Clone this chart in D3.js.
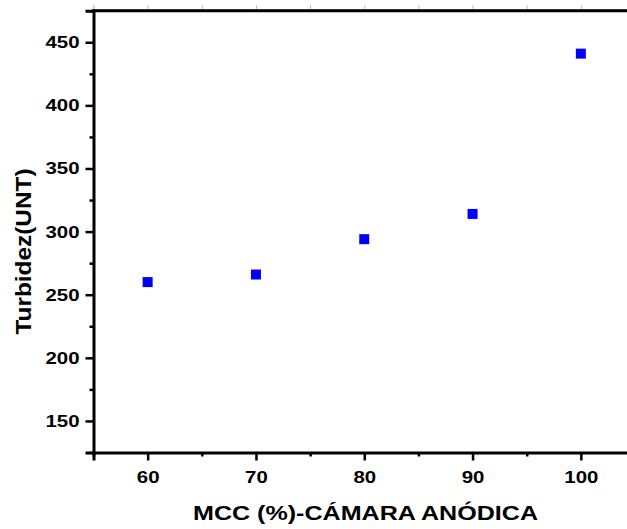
<!DOCTYPE html>
<html>
<head>
<meta charset="utf-8">
<script src="https://cdn.jsdelivr.net/npm/d3@7"></script>
<style>
  body { margin: 0; background: #fff; }
  text { font-family: "Liberation Sans", Arial, sans-serif; font-weight: bold; fill: #000; }
</style>
</head>
<body>
<div id="chart"></div>
<script>
// values
let mcc = [60, 70, 80, 90, 100];
let turbidez = [260, 266, 294, 314, 441];
let xTicks = [60, 70, 80, 90, 100];
let xMinor = [55, 65, 75, 85, 95, 105];
let yTicks = [150, 200, 250, 300, 350, 400, 450];
let yMinor = [125, 175, 225, 275, 325, 375, 425, 475];

let WIDTH = 627,
    HEIGHT = 529;

let svg = d3.select("#chart")
    .append("svg")
    .attr("width", WIDTH)
    .attr("height", HEIGHT)
    .style("display", "block");

let x = d3.scaleLinear().domain([55, 105]).range([93.5, 635]);
let y = d3.scaleLinear().domain([125, 475]).range([452.5, 10.7]);

// the original text is a bit wider than Arial, stretch it
function stretch(sel, k) {
    sel.each(function () {
        let w = this.getComputedTextLength();
        d3.select(this).attr("textLength", w * k).attr("lengthAdjust", "spacingAndGlyphs");
    });
}

// faint top axis (mostly cut off)
svg.append("g")
    .attr("transform", `translate(0,${y(475) - 1.5})`)
    .call(d3.axisTop(x).tickValues(xMinor.concat(xTicks)).tickSize(4).tickFormat(""))
    .call(g => g.selectAll("line").attr("stroke", "#bbb").attr("stroke-width", 1))
    .call(g => g.select(".domain").attr("stroke", "#ccc").attr("stroke-width", 1));

svg.append("line")
    .attr("x1", x(55) - 1.5).attr("x2", WIDTH)
    .attr("y1", y(475)).attr("y2", y(475))
    .attr("stroke", "#000").attr("stroke-width", 3);

// x axis
let gx = svg.append("g").attr("transform", `translate(0,${y(125)})`);
gx.call(d3.axisBottom(x).tickValues(xTicks).tickSize(8).tickPadding(10).tickFormat(d3.format("d")));
gx.append("g").call(d3.axisBottom(x).tickValues(xMinor).tickSize(4).tickFormat(""))
    .select(".domain").remove();
gx.selectAll("line").attr("stroke-width", 2.5);
gx.select(".domain").attr("stroke-width", 3);
gx.selectAll("text").style("font-size", "17px").call(stretch, 1.2);

// y axis
let gy = svg.append("g").attr("transform", `translate(${x(55)},0)`);
gy.call(d3.axisLeft(y).tickValues(yTicks).tickSize(8).tickPadding(6).tickFormat(d3.format("d")));
gy.append("g").call(d3.axisLeft(y).tickValues(yMinor).tickSize(4).tickFormat(""))
    .select(".domain").remove();
gy.selectAll("line").attr("stroke-width", 2.5);
gy.select(".domain").attr("stroke-width", 3);
gy.selectAll("text").style("font-size", "17px").call(stretch, 1.2);

// points
svg.selectAll("rect.pt")
    .data(mcc.map((d, i) => ({ x: d, y: turbidez[i] })))
    .enter()
    .append("rect")
    .attr("class", "pt")
    .attr("x", d => x(d.x) - 5)
    .attr("y", d => y(d.y) - 5)
    .attr("width", 10)
    .attr("height", 10)
    .attr("fill", "#0000ff");

// titles
svg.append("text")
    .attr("x", 365.5)
    .attr("y", 520)
    .attr("text-anchor", "middle")
    .style("font-size", "21px")
    .attr("textLength", 345)
    .attr("lengthAdjust", "spacingAndGlyphs")
    .text("MCC (%)-CÁMARA ANÓDICA");

svg.append("text")
    .attr("transform", "translate(31,251.5) rotate(-90)")
    .attr("text-anchor", "middle")
    .style("font-size", "22px")
    .attr("textLength", 166)
    .attr("lengthAdjust", "spacingAndGlyphs")
    .text("Turbidez(UNT)");
</script>
</body>
</html>
